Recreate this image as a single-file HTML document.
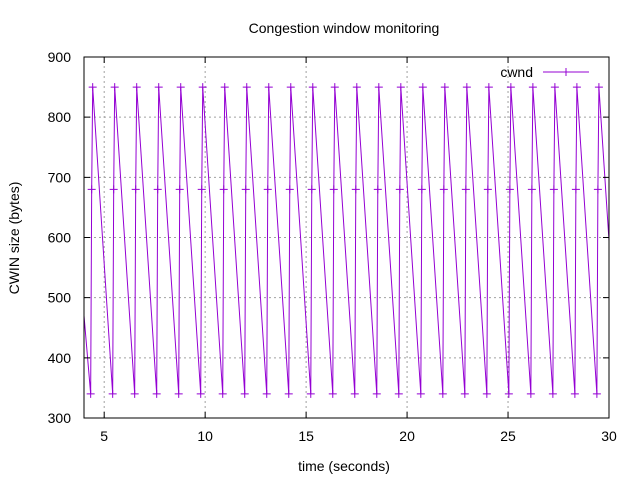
<!DOCTYPE html>
<html><head><meta charset="utf-8"><style>
body{margin:0;background:#fff}
svg{display:block;font-family:"Liberation Sans",sans-serif}
</style></head><body>
<svg id="chart" width="640" height="480" xmlns="http://www.w3.org/2000/svg">
<rect width="640" height="480" fill="#fff"/>
<text x="344" y="33" font-size="14" text-anchor="middle">Congestion window monitoring</text>
<text x="344" y="471" font-size="14" text-anchor="middle">time (seconds)</text>
<text transform="translate(19,238) rotate(-90)" font-size="14" text-anchor="middle">CWIN size (bytes)</text>
<g id="grid"></g><g id="series"></g><g id="axes"></g>
<g>
<text x="533" y="77" font-size="14" text-anchor="end">cwnd</text>
<line x1="543" y1="72" x2="589" y2="72" stroke="#9400d3" stroke-width="1"/>
<path d="M562,72h8M566,68v8" stroke="#9400d3"/>
</g>
</svg>
<script>
const xTicks=[5,10,15,20,25,30];
const yTicks=[300,400,500,600,700,800,900];
const cycleStarts=[4.33,5.42,6.51,7.60,8.69,9.78,10.87,11.96,13.05,14.14,15.23,16.32,17.41,18.50,19.59,20.68,21.77,22.86,23.95,25.04,26.13,27.22,28.31,29.40];
const troughValues=[340,340,340,340,340,340,340,340,340,340,340,340,340,340,340,340,340,340,340,340,340,340,340,340];
const midValues=[680,680,680,680,680,680,680,680,680,680,680,680,680,680,680,680,680,680,680,680,680,680,680,680];
const peakValues=[850,850,850,850,850,850,850,850,850,850,850,850,850,850,850,850,850,850,850,850,850,850,850,850];
const startValue=470;
const X0=84,X1=609,Y0=418,Y1=57;
const sx=v=>X0+(v-4)/(30-4)*(X1-X0);
const sy=v=>Y0-(v-300)/(900-300)*(Y0-Y1);
const NS="http://www.w3.org/2000/svg";
function mk(parent,tag,attrs){const e=document.createElementNS(NS,tag);for(const k in attrs)e.setAttribute(k,attrs[k]);parent.appendChild(e);return e;}
const grid=document.getElementById('grid'),axes=document.getElementById('axes'),ser=document.getElementById('series');
xTicks.forEach(t=>{
 const x=sx(t);
 if(t<30){const g=mk(grid,'line',{x1:x,y1:Y0,x2:x,y2:Y1,stroke:'#a0a0a0','stroke-dasharray':'2,3'});
 
 }
 mk(axes,'path',{d:`M${x},${Y0}v-6M${x},${Y1}v6`,stroke:'#000'});
 const l=mk(axes,'text',{x:x,y:Y0+23,'font-size':14,'text-anchor':'middle'});l.textContent=t;
 
 
});
yTicks.forEach(t=>{
 const y=sy(t);
 if(t>300&&t<900){const g=mk(grid,'line',{x1:X0,y1:y,x2:X1,y2:y,stroke:'#a0a0a0','stroke-dasharray':'2,3'});
 
 }
 mk(axes,'path',{d:`M${X0},${y}h6M${X1},${y}h-6`,stroke:'#000'});
 const l=mk(axes,'text',{x:X0-13,y:y+5,'font-size':14,'text-anchor':'end'});l.textContent=t;
 
 
});
const fr=mk(axes,'rect',{x:X0,y:Y1,width:X1-X0,height:Y0-Y1,fill:'none',stroke:'#000'});


// line
let d=`M${sx(4)},${sy(startValue)}`;
const markers=[];
cycleStarts.forEach((t,i)=>{
 d+=`L${sx(t)},${sy(troughValues[i])}`;
 d+=`L${sx(t+0.05)},${sy(midValues[i])}`;
 d+=`L${sx(t+0.1)},${sy(peakValues[i])}`;
 markers.push([t,troughValues[i]],[t+0.05,midValues[i]],[t+0.1,peakValues[i]]);
 const next=i+1<cycleStarts.length?cycleStarts[i+1]:null;
 if(next!==null){d+=`L${sx(next)},${sy(troughValues[i+1])}`;}
 else{const tEnd=30;const frac=(tEnd-(t+0.1))/1.0;const v=peakValues[i]-(peakValues[i]-troughValues[i])*frac;d+=`L${sx(tEnd)},${sy(v)}`;}
});
const p=mk(ser,'path',{d:d,fill:'none',stroke:'#9400d3','stroke-width':1});


markers.forEach(([t,v])=>{
 const x=sx(t),y=sy(v);
 const m=mk(ser,'path',{d:`M${x-4},${y}h8M${x},${y-4}v8`,stroke:'#9400d3'});
 
 
});
</script>
</body></html>
